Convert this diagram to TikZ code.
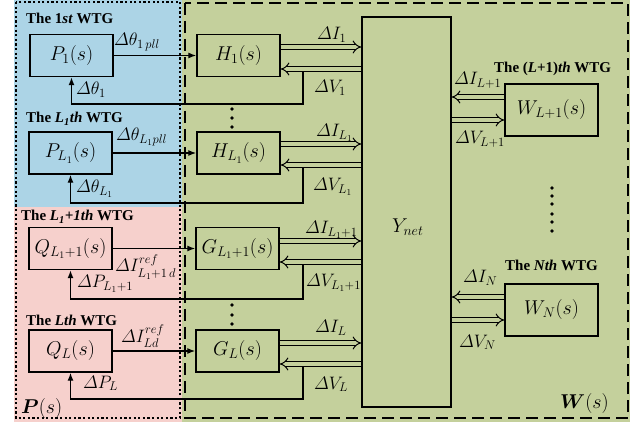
\documentclass[tikz,border=0pt]{standalone}
\usepackage{fix-cm}
\usepackage{amsmath}
\usepackage{fontspec}
\setmainfont{Liberation Serif}
\usetikzlibrary{arrows.meta}

\definecolor{pbluebg}{RGB}{172,212,230}
\definecolor{ppinkbg}{RGB}{246,208,204}
\definecolor{wgreenbg}{RGB}{196,208,156}

\tikzset{
  blk/.style={draw, line width=1.4pt, minimum width=83pt, minimum height=42pt, inner sep=0pt, font=\fontsize{20}{24}\selectfont},
  sig/.style={font=\fontsize{18}{22}\selectfont, inner sep=0pt, anchor=base west},
  ttl/.style={font=\fontsize{15}{18}\selectfont\bfseries, inner sep=0pt, anchor=base west},
  dblarr/.style={double=wgreenbg, double distance=3.5pt, line width=1pt, -{Implies}},
  sglarr/.style={line width=1.3pt, -{Latex[length=8pt,width=6pt]}},
}

\begin{document}
\begin{tikzpicture}[x=1pt,y=-1pt]
  \useasboundingbox (0,0) rectangle (643,422);

  % background areas
  \fill[pbluebg] (14,0) rectangle (182,207);
  \fill[ppinkbg] (14,207) rectangle (182,422);
  \fill[wgreenbg] (182,0) rectangle (630,422);
  \draw[line width=1.8pt, dash pattern=on 2.2pt off 2.4pt] (16,2) rectangle (180,418);
  \draw[line width=1.8pt, dash pattern=on 12pt off 6pt] (185,3) rectangle (628,418);

  % titles
  \node[ttl] (t1) at (26,24) {The 1\textit{st} WTG};
  \node[ttl] (t2) at (26,123) {The \textit{L}\textsubscript{\textit{1}}\textit{th} WTG};
  \node[ttl] (t3) at (21,221) {The \textit{L\textsubscript{1}+1th} WTG};
  \node[ttl] (t4) at (26,325) {The \textit{Lth} WTG};
  \node[ttl] (t5) at (494,73) {The (\textit{L}+1)\textit{th} WTG};
  \node[ttl] (t6) at (505,271) {The \textit{Nth} WTG};

  % blocks
  \node[blk] (P1) at (71.5,55.5) {$P_1(s)$};
  \node[blk] (PL1) at (70.5,153) {$P_{L_1}(s)$};
  \node[blk] (Q1) at (70.5,248.5) {$Q_{L_1+1}(s)$};
  \node[blk] (QL) at (70.5,351) {$Q_L(s)$};
  \node[blk] (H1) at (238.5,55.5) {$H_1(s)$};
  \node[blk] (HL1) at (238.5,153) {$H_{L_1}(s)$};
  \node[blk] (G1) at (237.5,248.5) {$G_{L_1+1}(s)$};
  \node[blk] (GL) at (237.5,351) {$G_L(s)$};
  \node[blk, minimum width=89pt, minimum height=390pt] (Ynet) at (406.5,212) {};
  \node[blk, minimum width=93pt, minimum height=52pt] (WL1) at (551.5,110) {$W_{L+1}(s)$};
  \node[blk, minimum width=93pt, minimum height=52pt] (WN) at (551.5,310) {$W_N(s)$};

  % P/Q to H/G
  \draw[sglarr] (P1.east) -- (H1.west);
  \draw[sglarr] (PL1.east) -- (HL1.west);
  \draw[sglarr] (Q1.east) -- (G1.west);
  \draw[sglarr] (QL.east) -- (GL.west);

  % currents and voltages, left side
  \draw[dblarr] (H1.east |- 0,47) -- (Ynet.west |- 0,47);
  \draw[dblarr] (Ynet.west |- 0,69) -- (H1.east |- 0,69);
  \draw[dblarr] (HL1.east |- 0,144) -- (Ynet.west |- 0,144);
  \draw[dblarr] (Ynet.west |- 0,165) -- (HL1.east |- 0,165);
  \draw[dblarr] (G1.east |- 0,241) -- (Ynet.west |- 0,241);
  \draw[dblarr] (Ynet.west |- 0,262) -- (G1.east |- 0,262);
  \draw[dblarr] (GL.east |- 0,343) -- (Ynet.west |- 0,343);
  \draw[dblarr] (Ynet.west |- 0,364) -- (GL.east |- 0,364);

  % currents and voltages, right side
  \draw[dblarr] (WL1.west |- 0,97) -- (Ynet.east |- 0,97);
  \draw[dblarr] (Ynet.east |- 0,120) -- (WL1.west |- 0,120);
  \draw[dblarr] (WN.west |- 0,297) -- (Ynet.east |- 0,297);
  \draw[dblarr] (Ynet.east |- 0,320) -- (WN.west |- 0,320);

  % feedback
  \coordinate (tap1) at (303,71.8);
  \coordinate (tap2) at (303,167.8);
  \coordinate (tap3) at (303,264.8);
  \coordinate (tap4) at (303,366.8);
  \draw[sglarr] (tap1) -- (tap1 |- 0,104) -| (P1.south);
  \draw[sglarr] (tap2) -- (tap2 |- 0,203) -| (PL1.south);
  \draw[sglarr] (tap3) -- (tap3 |- 0,299) -| (Q1.south);
  \draw[sglarr] (tap4) -- (tap4 |- 0,399) -| (QL.south);

  % signal labels
  \node[sig] (lth1) at (114,46) {$\varDelta\theta_{1\,pll}$};
  \node[sig] (lfb1) at (76,95) {$\varDelta\theta_1$};
  \node[sig] (lth2) at (116,141) {$\varDelta\theta_{L_1pll}$};
  \node[sig] (lfb2) at (76,193) {$\varDelta\theta_{L_1}$};
  \node[sig] (lir1) at (115,272) {$\varDelta I^{ref}_{L_1+1\,d}$};
  \node[sig] (lfb3) at (77,288) {$\varDelta P_{L_1+1}$};
  \node[sig] (lir2) at (121,342) {$\varDelta I^{ref}_{Ld}$};
  \node[sig] (lfb4) at (83,388) {$\varDelta P_L$};
  \node[sig] (li1) at (317,40) {$\varDelta I_1$};
  \node[sig] (lv1) at (314,93) {$\varDelta V_1$};
  \node[sig] (li2) at (316,137) {$\varDelta I_{L_1}$};
  \node[sig] (lv2) at (313,191) {$\varDelta V_{L_1}$};
  \node[sig] (li3) at (305,234) {$\varDelta I_{L_1+1}$};
  \node[sig] (lv3) at (306,287) {$\varDelta V_{L_1+1}$};
  \node[sig] (li4) at (315,333) {$\varDelta I_L$};
  \node[sig] (lv4) at (314,389) {$\varDelta V_L$};
  \node[sig] (li5) at (454,85) {$\varDelta I_{L+1}$};
  \node[sig] (lv5) at (455,144) {$\varDelta V_{L+1}$};
  \node[sig] (li6) at (463,283) {$\varDelta I_N$};
  \node[sig] (lv6) at (459,347) {$\varDelta V_N$};
  \node[sig, font=\fontsize{20}{24}\selectfont] (lynet) at (392,233) {$Y_{net}$};
  \node[sig, font=\fontsize{20}{24}\selectfont] (lps) at (21,413) {$\boldsymbol{P}(s)$};
  \node[sig, font=\fontsize{20}{24}\selectfont] (lws) at (560,408) {$\boldsymbol{W}(s)$};

  % dots
  \foreach \yy in {109,118,127,305,315,324} \fill (232,\yy) circle (1.8pt);
  \foreach \yy in {188,196,204,214,222,231} \fill (552,\yy) circle (1.8pt);
\end{tikzpicture}
\end{document}
